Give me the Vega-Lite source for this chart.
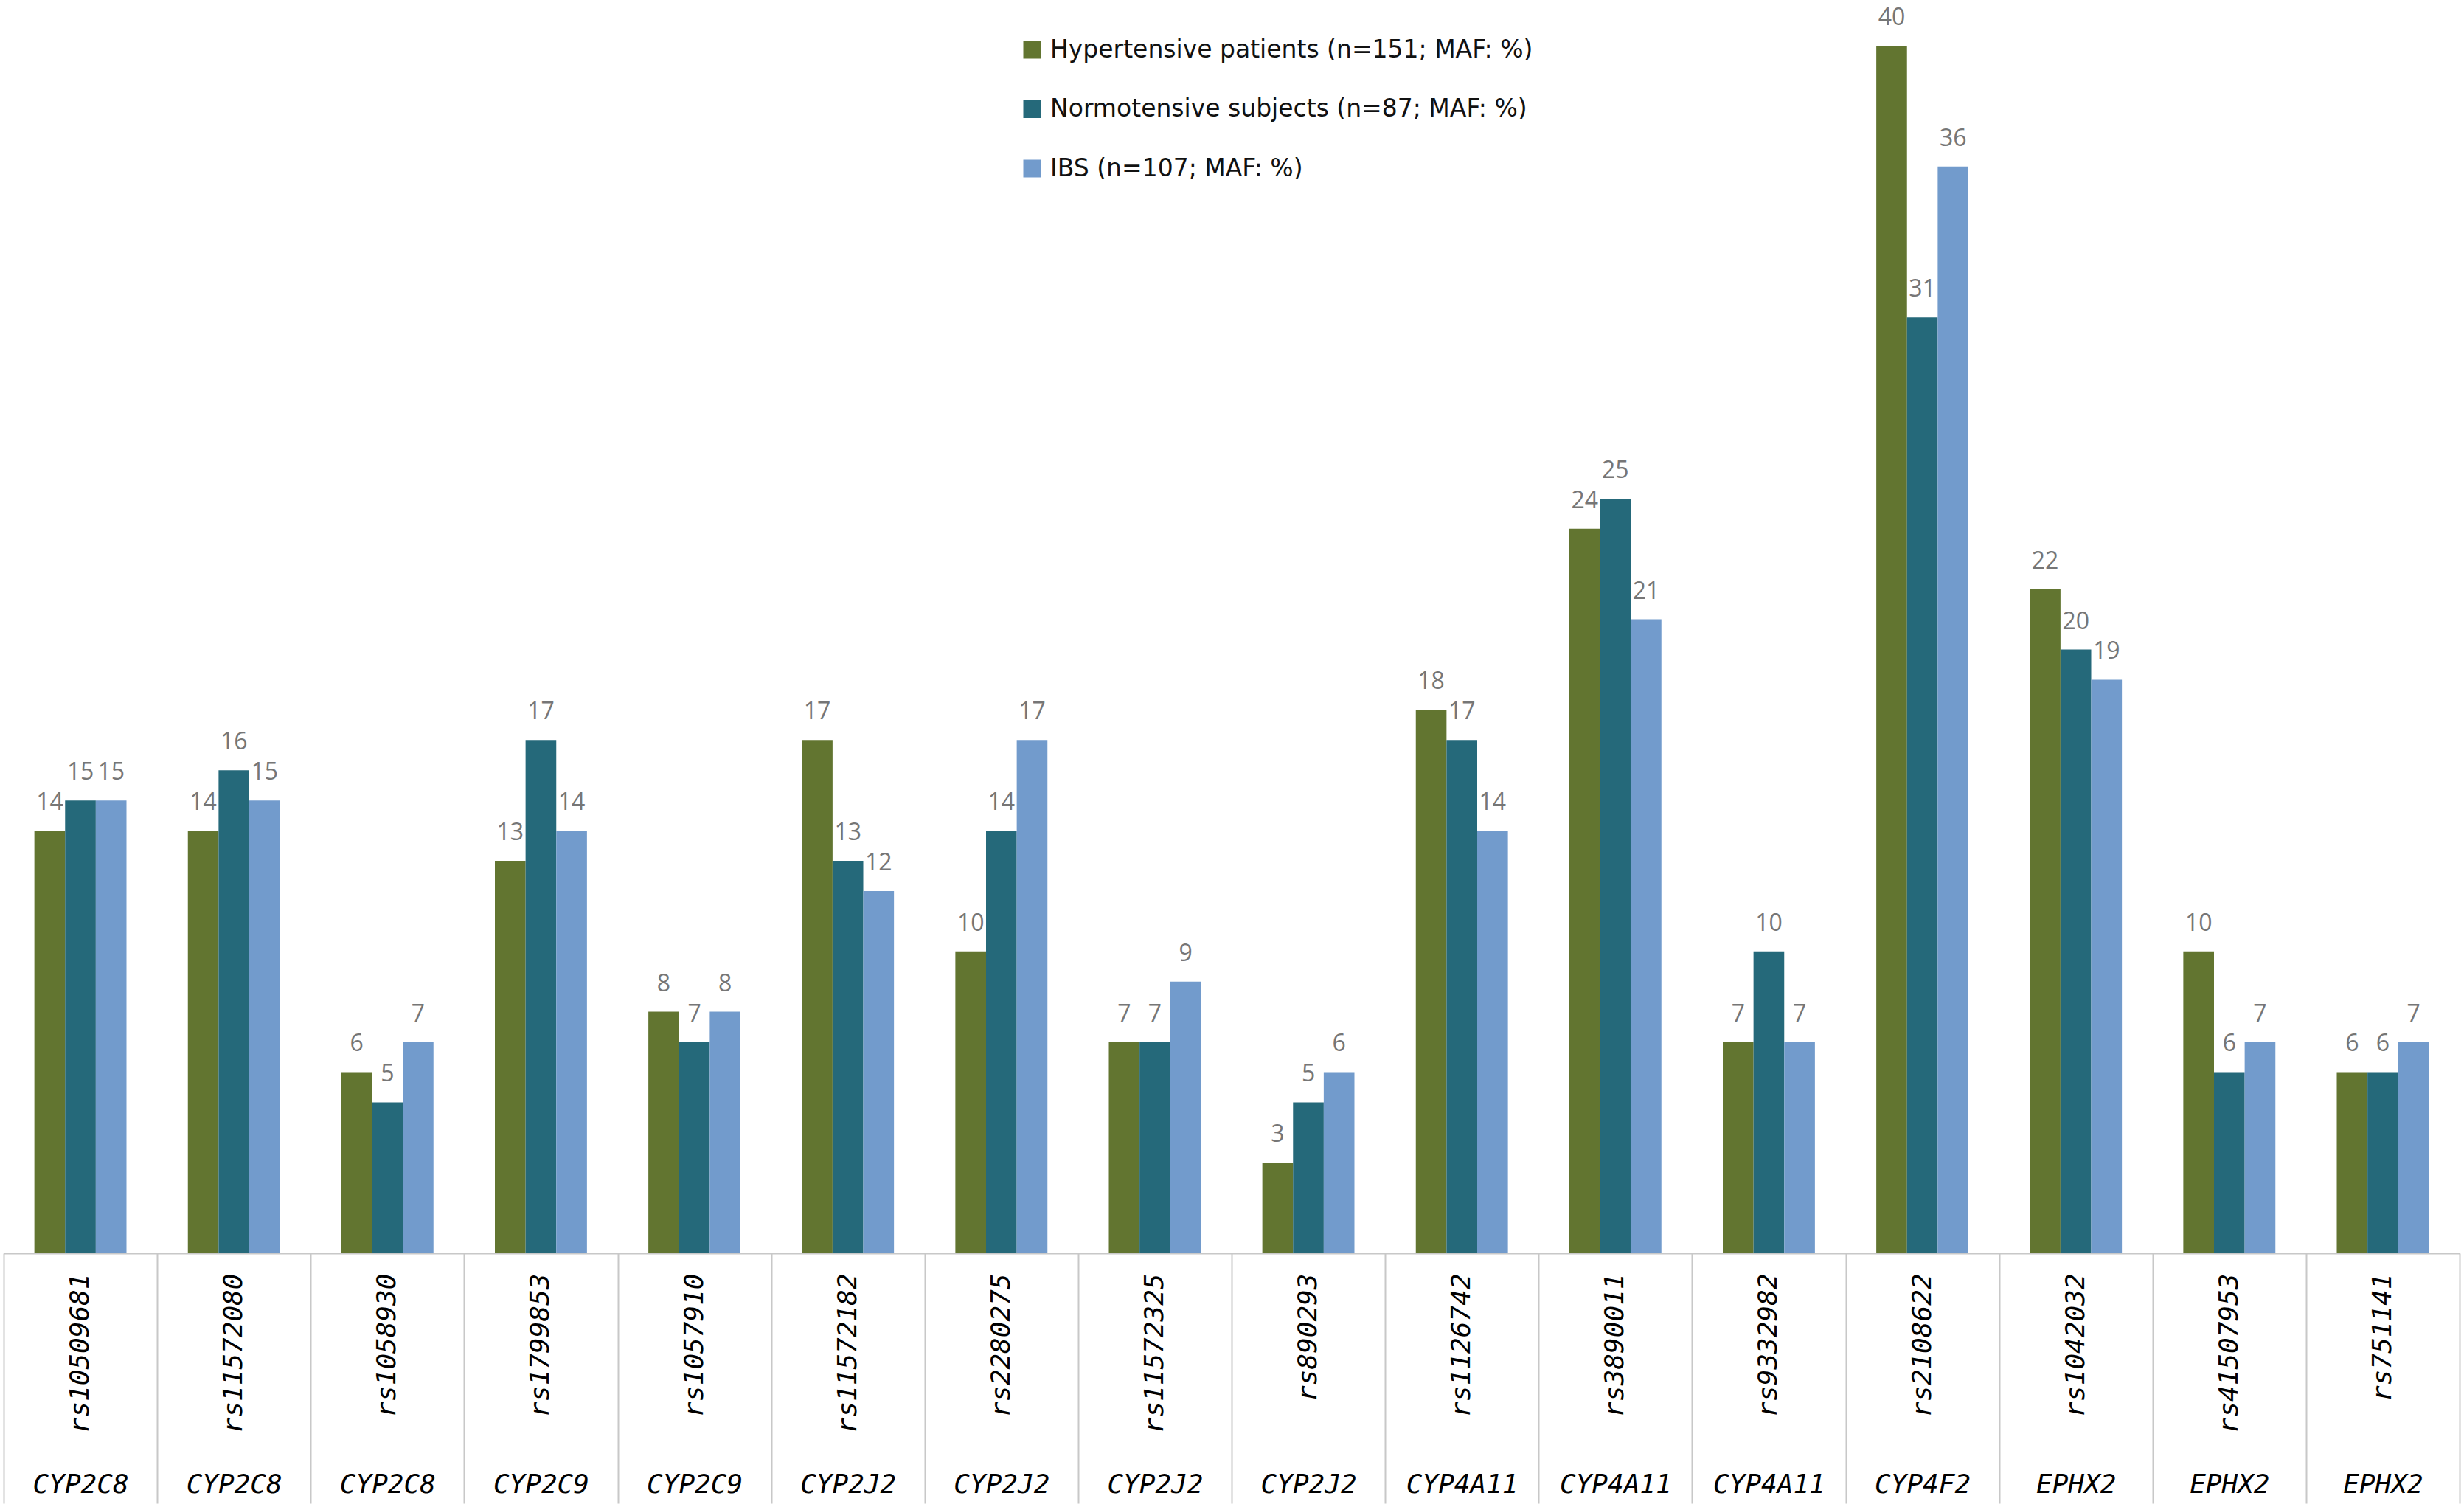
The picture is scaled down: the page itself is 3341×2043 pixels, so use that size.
{
  "$schema": "https://vega.github.io/schema/vega-lite/v6.json",
  "width": 3330,
  "height": 1637,
  "autosize": {"type": "none"},
  "padding": {"left": 5, "top": 62, "right": 6, "bottom": 344},
  "background": "white",
  "config": {"view": {"stroke": null}, "font": "Open Sans"},
  "data": {
    "values": [
      {"snp": "rs10509681", "gene": "CYP2C8", "group": "Hypertensive patients (n=151; MAF: %)", "maf": 14},
      {"snp": "rs10509681", "gene": "CYP2C8", "group": "Normotensive subjects  (n=87; MAF: %)", "maf": 15},
      {"snp": "rs10509681", "gene": "CYP2C8", "group": "IBS (n=107; MAF: %)", "maf": 15},
      {"snp": "rs11572080", "gene": "CYP2C8", "group": "Hypertensive patients (n=151; MAF: %)", "maf": 14},
      {"snp": "rs11572080", "gene": "CYP2C8", "group": "Normotensive subjects  (n=87; MAF: %)", "maf": 16},
      {"snp": "rs11572080", "gene": "CYP2C8", "group": "IBS (n=107; MAF: %)", "maf": 15},
      {"snp": "rs1058930", "gene": "CYP2C8", "group": "Hypertensive patients (n=151; MAF: %)", "maf": 6},
      {"snp": "rs1058930", "gene": "CYP2C8", "group": "Normotensive subjects  (n=87; MAF: %)", "maf": 5},
      {"snp": "rs1058930", "gene": "CYP2C8", "group": "IBS (n=107; MAF: %)", "maf": 7},
      {"snp": "rs1799853", "gene": "CYP2C9", "group": "Hypertensive patients (n=151; MAF: %)", "maf": 13},
      {"snp": "rs1799853", "gene": "CYP2C9", "group": "Normotensive subjects  (n=87; MAF: %)", "maf": 17},
      {"snp": "rs1799853", "gene": "CYP2C9", "group": "IBS (n=107; MAF: %)", "maf": 14},
      {"snp": "rs1057910", "gene": "CYP2C9", "group": "Hypertensive patients (n=151; MAF: %)", "maf": 8},
      {"snp": "rs1057910", "gene": "CYP2C9", "group": "Normotensive subjects  (n=87; MAF: %)", "maf": 7},
      {"snp": "rs1057910", "gene": "CYP2C9", "group": "IBS (n=107; MAF: %)", "maf": 8},
      {"snp": "rs11572182", "gene": "CYP2J2", "group": "Hypertensive patients (n=151; MAF: %)", "maf": 17},
      {"snp": "rs11572182", "gene": "CYP2J2", "group": "Normotensive subjects  (n=87; MAF: %)", "maf": 13},
      {"snp": "rs11572182", "gene": "CYP2J2", "group": "IBS (n=107; MAF: %)", "maf": 12},
      {"snp": "rs2280275", "gene": "CYP2J2", "group": "Hypertensive patients (n=151; MAF: %)", "maf": 10},
      {"snp": "rs2280275", "gene": "CYP2J2", "group": "Normotensive subjects  (n=87; MAF: %)", "maf": 14},
      {"snp": "rs2280275", "gene": "CYP2J2", "group": "IBS (n=107; MAF: %)", "maf": 17},
      {"snp": "rs11572325", "gene": "CYP2J2", "group": "Hypertensive patients (n=151; MAF: %)", "maf": 7},
      {"snp": "rs11572325", "gene": "CYP2J2", "group": "Normotensive subjects  (n=87; MAF: %)", "maf": 7},
      {"snp": "rs11572325", "gene": "CYP2J2", "group": "IBS (n=107; MAF: %)", "maf": 9},
      {"snp": "rs890293", "gene": "CYP2J2", "group": "Hypertensive patients (n=151; MAF: %)", "maf": 3},
      {"snp": "rs890293", "gene": "CYP2J2", "group": "Normotensive subjects  (n=87; MAF: %)", "maf": 5},
      {"snp": "rs890293", "gene": "CYP2J2", "group": "IBS (n=107; MAF: %)", "maf": 6},
      {"snp": "rs1126742", "gene": "CYP4A11", "group": "Hypertensive patients (n=151; MAF: %)", "maf": 18},
      {"snp": "rs1126742", "gene": "CYP4A11", "group": "Normotensive subjects  (n=87; MAF: %)", "maf": 17},
      {"snp": "rs1126742", "gene": "CYP4A11", "group": "IBS (n=107; MAF: %)", "maf": 14},
      {"snp": "rs3890011", "gene": "CYP4A11", "group": "Hypertensive patients (n=151; MAF: %)", "maf": 24},
      {"snp": "rs3890011", "gene": "CYP4A11", "group": "Normotensive subjects  (n=87; MAF: %)", "maf": 25},
      {"snp": "rs3890011", "gene": "CYP4A11", "group": "IBS (n=107; MAF: %)", "maf": 21},
      {"snp": "rs9332982", "gene": "CYP4A11", "group": "Hypertensive patients (n=151; MAF: %)", "maf": 7},
      {"snp": "rs9332982", "gene": "CYP4A11", "group": "Normotensive subjects  (n=87; MAF: %)", "maf": 10},
      {"snp": "rs9332982", "gene": "CYP4A11", "group": "IBS (n=107; MAF: %)", "maf": 7},
      {"snp": "rs2108622", "gene": "CYP4F2", "group": "Hypertensive patients (n=151; MAF: %)", "maf": 40},
      {"snp": "rs2108622", "gene": "CYP4F2", "group": "Normotensive subjects  (n=87; MAF: %)", "maf": 31},
      {"snp": "rs2108622", "gene": "CYP4F2", "group": "IBS (n=107; MAF: %)", "maf": 36},
      {"snp": "rs1042032", "gene": "EPHX2", "group": "Hypertensive patients (n=151; MAF: %)", "maf": 22},
      {"snp": "rs1042032", "gene": "EPHX2", "group": "Normotensive subjects  (n=87; MAF: %)", "maf": 20},
      {"snp": "rs1042032", "gene": "EPHX2", "group": "IBS (n=107; MAF: %)", "maf": 19},
      {"snp": "rs41507953", "gene": "EPHX2", "group": "Hypertensive patients (n=151; MAF: %)", "maf": 10},
      {"snp": "rs41507953", "gene": "EPHX2", "group": "Normotensive subjects  (n=87; MAF: %)", "maf": 6},
      {"snp": "rs41507953", "gene": "EPHX2", "group": "IBS (n=107; MAF: %)", "maf": 7},
      {"snp": "rs751141", "gene": "EPHX2", "group": "Hypertensive patients (n=151; MAF: %)", "maf": 6},
      {"snp": "rs751141", "gene": "EPHX2", "group": "Normotensive subjects  (n=87; MAF: %)", "maf": 6},
      {"snp": "rs751141", "gene": "EPHX2", "group": "IBS (n=107; MAF: %)", "maf": 7}
    ]
  },
  "layer": [
    {
      "mark": {"type": "bar"},
      "encoding": {
        "x": {
          "field": "snp", "type": "nominal", "sort": null,
          "scale": {"paddingInner": 0, "paddingOuter": 0},
          "axis": {
            "orient": "bottom", "title": null,
            "domain": true, "domainColor": "#c8c8c8", "domainWidth": 2,
            "ticks": false,
            "labelAngle": 270, "labelAlign": "right", "labelBaseline": "middle",
            "labelFont": "DejaVu Sans Mono", "labelFontStyle": "italic", "labelFontSize": 36,
            "labelColor": "#000000", "labelPadding": 27,
            "labelOverlap": false, "labelBound": false, "labelLimit": 400
          }
        },
        "xOffset": {
          "field": "group", "type": "nominal", "sort": null,
          "scale": {"domain": ["Hypertensive patients (n=151; MAF: %)", "Normotensive subjects  (n=87; MAF: %)", "IBS (n=107; MAF: %)"], "paddingInner": 0, "paddingOuter": 1}
        },
        "y": {"field": "maf", "type": "quantitative", "scale": {"domain": [0, 40], "nice": false}, "axis": null},
        "color": {
          "field": "group", "type": "nominal",
          "scale": {"domain": ["Hypertensive patients (n=151; MAF: %)", "Normotensive subjects  (n=87; MAF: %)", "IBS (n=107; MAF: %)"], "range": ["#627530", "#25697a", "#729bcc"]},
          "legend": {
            "orient": "none", "legendX": 1378, "legendY": -11, "title": null, "padding": 0,
            "symbolType": "square", "symbolSize": 576, "symbolStrokeWidth": 0,
            "labelFont": "DejaVu Sans", "labelFontSize": 33, "labelColor": "#111111",
            "labelOffset": 8, "rowPadding": 46.5, "labelLimit": 1200
          }
        }
      }
    },
    {
      "mark": {"type": "text", "baseline": "alphabetic", "dy": -28, "font": "Open Sans", "fontSize": 32, "color": "#767676"},
      "encoding": {
        "x": {
          "field": "snp", "type": "nominal", "sort": null,
          "axis": {
            "orient": "bottom", "title": null, "domain": false,
            "ticks": true, "tickBand": "extent", "tickSize": 339, "tickColor": "#c8c8c8", "tickWidth": 2,
            "labelExpr": "{'rs10509681':'CYP2C8','rs11572080':'CYP2C8','rs1058930':'CYP2C8','rs1799853':'CYP2C9','rs1057910':'CYP2C9','rs11572182':'CYP2J2','rs2280275':'CYP2J2','rs11572325':'CYP2J2','rs890293':'CYP2J2','rs1126742':'CYP4A11','rs3890011':'CYP4A11','rs9332982':'CYP4A11','rs2108622':'CYP4F2','rs1042032':'EPHX2','rs41507953':'EPHX2','rs751141':'EPHX2'}[datum.value]",
            "labelAngle": 0, "labelAlign": "center", "labelBaseline": "alphabetic",
            "labelFont": "DejaVu Sans Mono", "labelFontStyle": "italic", "labelFontSize": 36,
            "labelColor": "#000000", "labelPadding": -15,
            "labelOverlap": false, "labelBound": false, "labelLimit": 400
          }
        },
        "xOffset": {"field": "group", "type": "nominal", "sort": null},
        "y": {"field": "maf", "type": "quantitative"},
        "text": {"field": "maf", "type": "quantitative"}
      }
    }
  ],
  "resolve": {"axis": {"x": "independent"}}
}
